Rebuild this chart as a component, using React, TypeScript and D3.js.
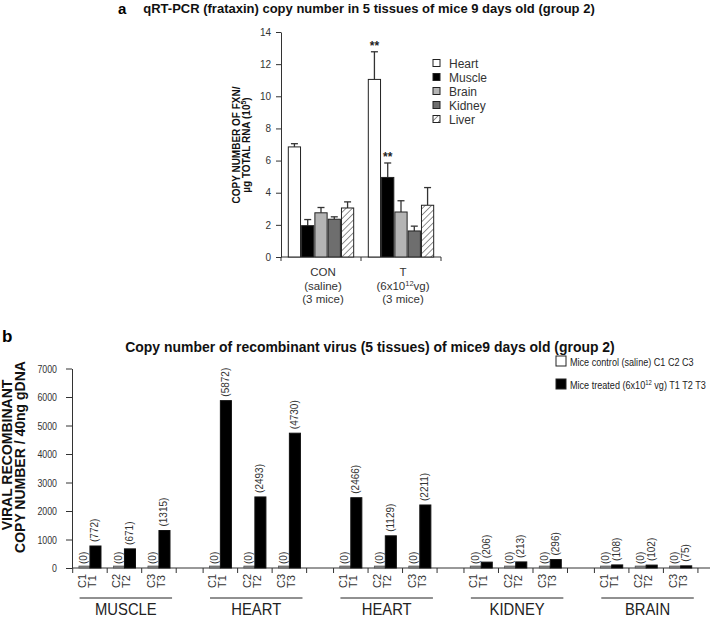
import React, { useEffect, useRef } from 'react';
import * as d3 from 'd3';

// ---- panel a data ----
const tissues = ['Heart', 'Muscle', 'Brain', 'Kidney', 'Liver'];
const topGroups = ['CON', 'T'];
const conMeans = [6.85, 1.95, 2.75, 2.35, 3.05];
const conErrors = [0.2, 0.38, 0.33, 0.15, 0.38];
const tMeans = [11.05, 4.95, 2.8, 1.62, 3.22];
const tErrors = [1.72, 0.9, 0.7, 0.3, 1.1];
const topTicks = [0, 2, 4, 6, 8, 10, 12, 14];
const significant = ['T|Heart', 'T|Muscle'];

// ---- panel b data ----
const tissueGroups = ['MUSCLE', 'HEART', 'HEART', 'KIDNEY', 'BRAIN'];
const mice = ['1', '2', '3'];
const controlCopies = [
  [0, 0, 0],
  [0, 0, 0],
  [0, 0, 0],
  [0, 0, 0],
  [0, 0, 0],
];
const treatedCopies = [
  [772, 671, 1315],
  [5872, 2493, 4730],
  [2466, 1129, 2211],
  [206, 213, 296],
  [108, 102, 75],
];
const bottomTicks = [0, 1000, 2000, 3000, 4000, 5000, 6000, 7000];

const SANS = '"Liberation Sans", Arial, sans-serif';

const tissueFill: Record<string, string> = {
  Heart: '#ffffff',
  Muscle: '#000000',
  Brain: '#b4b4b4',
  Kidney: '#6e6e6e',
  Liver: 'url(#hatch)',
};

type Sel = d3.Selection<SVGGElement, unknown, null, undefined>;

// horizontally squeezed text (panel b was drawn in a condensed face)
const narrowText = (
  parent: Sel,
  x: number,
  y: number,
  size: number,
  squeeze: number,
  anchor = 'start',
  weight = 'normal'
) =>
  parent
    .append('text')
    .attr('transform', `translate(${x},${y}) scale(${squeeze},1)`)
    .attr('text-anchor', anchor)
    .attr('font-family', SANS)
    .attr('font-size', size)
    .attr('font-weight', weight)
    .attr('fill', '#222');

const App: React.FC = () => {
  const svgRef = useRef<SVGSVGElement>(null);

  useEffect(() => {
    if (!svgRef.current) return;
    const svg = d3.select(svgRef.current);
    svg.selectAll('*').remove();

    // hatch pattern for liver
    const defs = svg.append('defs');
    const pat = defs
      .append('pattern')
      .attr('id', 'hatch')
      .attr('patternUnits', 'userSpaceOnUse')
      .attr('width', 4.5)
      .attr('height', 4.5)
      .attr('patternTransform', 'rotate(45)');
    pat.append('rect').attr('width', 4.5).attr('height', 4.5).attr('fill', '#fff');
    pat.append('line').attr('x1', 0).attr('y1', 0).attr('x2', 0).attr('y2', 4.5)
      .attr('stroke', '#555').attr('stroke-width', 1.3);

    // ===================== PANEL A =====================
    const yTop = d3.scaleLinear().domain([0, 14]).range([257, 32]);
    const xTop = d3.scaleBand<string>().domain(topGroups).range([281, 441]);
    const xInner = d3
      .scaleBand<string>()
      .domain(tissues)
      .range([0, xTop.bandwidth()])
      .paddingInner(0.08)
      .paddingOuter(0.55);

    const a = svg.append('g');

    a.append('text')
      .attr('x', 118)
      .attr('y', 14)
      .attr('font-family', SANS)
      .attr('font-weight', 'bold')
      .attr('font-size', 15)
      .text('a');

    a.append('text')
      .attr('x', 369)
      .attr('y', 13)
      .attr('text-anchor', 'middle')
      .attr('font-family', SANS)
      .attr('font-weight', 'bold')
      .attr('font-size', 13)
      .attr('fill', '#111')
      .text('qRT-PCR (frataxin) copy number in 5 tissues of mice 9 days old (group 2)');

    // y axis
    const yAxisA = a
      .append('g')
      .attr('transform', 'translate(281,0)')
      .call(d3.axisLeft(yTop).tickValues(topTicks).tickSize(5).tickSizeOuter(0).tickPadding(5));
    yAxisA.selectAll('text').attr('font-family', SANS).attr('font-size', 10).attr('fill', '#333');
    yAxisA.selectAll('line,path').attr('stroke', '#333');

    // x axis line + ticks at band edges
    a.append('line')
      .attr('x1', xTop.range()[0]).attr('x2', xTop.range()[1])
      .attr('y1', yTop(0)).attr('y2', yTop(0))
      .attr('stroke', '#333');
    const edges = [...topGroups.map((g) => xTop(g) as number), xTop.range()[1]];
    a.selectAll('.xtick')
      .data(edges)
      .join('line')
      .attr('x1', (d) => d).attr('x2', (d) => d)
      .attr('y1', yTop(0)).attr('y2', yTop(0) + 4)
      .attr('stroke', '#333');

    // y label
    const yLab = a.append('g').attr('font-family', SANS).attr('font-weight', 'bold').attr('font-size', 10).attr('fill', '#111');
    yLab.append('text')
      .attr('transform', 'translate(239.5,145) rotate(-90)')
      .attr('text-anchor', 'middle')
      .text('COPY NUMBER OF FXN/');
    const l2 = yLab.append('text')
      .attr('transform', 'translate(249.5,145) rotate(-90)')
      .attr('text-anchor', 'middle');
    l2.append('tspan').text('µg TOTAL RNA (10');
    l2.append('tspan').attr('dy', -4).attr('font-size', 7).text('5');
    l2.append('tspan').attr('dy', 4).text(')');

    // bars
    topGroups.forEach((grp) => {
      const means = grp === 'CON' ? conMeans : tMeans;
      const errs = grp === 'CON' ? conErrors : tErrors;
      const gx = xTop(grp) as number;
      tissues.forEach((t, i) => {
        const bx = gx + (xInner(t) as number);
        const bw = xInner.bandwidth();
        const cx = bx + bw / 2;
        const top = yTop(means[i] + errs[i]);
        // error bar
        a.append('line')
          .attr('x1', cx).attr('x2', cx)
          .attr('y1', yTop(means[i])).attr('y2', top)
          .attr('stroke', '#333').attr('stroke-width', 1.3);
        a.append('line')
          .attr('x1', cx - 3.5).attr('x2', cx + 3.5)
          .attr('y1', top).attr('y2', top)
          .attr('stroke', '#333').attr('stroke-width', 1.3);
        a.append('rect')
          .attr('x', bx)
          .attr('y', yTop(means[i]))
          .attr('width', bw)
          .attr('height', yTop(0) - yTop(means[i]))
          .attr('fill', tissueFill[t])
          .attr('stroke', '#222')
          .attr('stroke-width', 1);
        if (significant.includes(`${grp}|${t}`)) {
          a.append('text')
            .attr('x', cx)
            .attr('y', top - 2)
            .attr('text-anchor', 'middle')
            .attr('font-family', SANS)
            .attr('font-weight', 'bold')
            .attr('font-size', 12)
            .attr('fill', '#222')
            .text('**');
        }
      });
    });

    // category labels
    const catLines: Record<string, string[][]> = {
      CON: [['CON'], ['(saline)'], ['(3 mice)']],
      T: [['T'], ['(6x10', '12', 'vg)'], ['(3 mice)']],
    };
    topGroups.forEach((grp) => {
      const cx = (xTop(grp) as number) + xTop.bandwidth() / 2 + 2;
      catLines[grp].forEach((parts, li) => {
        const tx = a.append('text')
          .attr('x', cx)
          .attr('y', 276 + li * 13.5)
          .attr('text-anchor', 'middle')
          .attr('font-family', SANS)
          .attr('font-size', 11.5)
          .attr('fill', '#333');
        if (parts.length === 1) tx.text(parts[0]);
        else {
          tx.append('tspan').text(parts[0]);
          tx.append('tspan').attr('dy', -4).attr('font-size', 7.5).text(parts[1]);
          tx.append('tspan').attr('dy', 4).text(parts[2]);
        }
      });
    });

    // legend
    const legA = a.append('g').attr('transform', 'translate(433,63)');
    tissues.forEach((t, i) => {
      legA.append('rect')
        .attr('x', 0).attr('y', i * 14 - 3.5)
        .attr('width', 7).attr('height', 7)
        .attr('fill', tissueFill[t]).attr('stroke', '#222');
      legA.append('text')
        .attr('x', 16).attr('y', i * 14 + 4.5)
        .attr('font-family', SANS).attr('font-size', 12).attr('fill', '#333')
        .text(t);
    });

    // ===================== PANEL B =====================
    const groupStep = 3.78;
    const xB = d3.scaleLinear().domain([-0.52, 17.97]).range([72, 710]);
    const yB = d3.scaleLinear().domain([0, 7000]).range([568, 368.5]);
    const pitch = xB(1) - xB(0);
    const bw = pitch * 0.32;

    const b = svg.append('g') as Sel;
    b.append('text')
      .attr('x', 2).attr('y', 342)
      .attr('font-family', SANS).attr('font-weight', 'bold').attr('font-size', 17)
      .text('b');
    narrowText(b, 370, 352, 15.5, 0.9, 'middle', 'bold')
      .attr('fill', '#111')
      .text('Copy number of recombinant virus (5 tissues) of mice9 days old (group 2)');

    // legend b
    const legB = b.append('g').attr('transform', 'translate(556,361)') as Sel;
    [0, 1].forEach((i) => {
      legB.append('rect')
        .attr('x', 0).attr('y', i * 23 - 5)
        .attr('width', 10).attr('height', 10)
        .attr('fill', i === 0 ? '#fff' : '#000').attr('stroke', '#222');
      const tx = narrowText(legB, 14, i * 23 + 4.5, 11.5, 0.79);
      if (i === 0) tx.text('Mice control (saline) C1 C2 C3');
      else {
        tx.append('tspan').text('Mice treated (6x10');
        tx.append('tspan').attr('dy', -4).attr('font-size', 7.5).text('12');
        tx.append('tspan').attr('dy', 4).text(' vg) T1 T2 T3');
      }
    });

    // y axis (labels drawn squeezed)
    const yAxisB = b
      .append('g')
      .attr('transform', 'translate(72,0)')
      .call(d3.axisLeft(yB).tickValues(bottomTicks).tickSize(6).tickSizeOuter(0).tickFormat(() => ''));
    yAxisB.selectAll('line,path').attr('stroke', '#333');
    bottomTicks.forEach((t) => {
      narrowText(b, 57, yB(t) + 4, 11, 0.8, 'end').attr('fill', '#333').text(d3.format('d')(t));
    });

    // y label
    const yLabB = b.append('g').attr('font-family', SANS).attr('font-weight', 'bold').attr('font-size', 14).attr('fill', '#111');
    yLabB.append('text')
      .attr('transform', 'translate(11.5,455) rotate(-90)')
      .attr('text-anchor', 'middle')
      .text('VIRAL RECOMBINANT');
    yLabB.append('text')
      .attr('transform', 'translate(25,457) rotate(-90)')
      .attr('text-anchor', 'middle')
      .text('COPY NUMBER / 40ng gDNA');

    // x axis
    b.append('line')
      .attr('x1', xB.range()[0]).attr('x2', xB.range()[1])
      .attr('y1', yB(0)).attr('y2', yB(0))
      .attr('stroke', '#333');
    const tickIdx: number[] = [];
    tissueGroups.forEach((_, g) => {
      [-0.5, 0.5, 1.5, 2.5].forEach((o) => tickIdx.push(g * groupStep + o));
    });
    b.selectAll('.btick')
      .data(tickIdx)
      .join('line')
      .attr('x1', (d) => xB(d)).attr('x2', (d) => xB(d))
      .attr('y1', yB(0)).attr('y2', yB(0) + 5)
      .attr('stroke', '#333');

    tissueGroups.forEach((name, g) => {
      mice.forEach((m, p) => {
        const c = xB(g * groupStep + p);
        const cv = controlCopies[g][p];
        const tv = treatedCopies[g][p];
        // control bar
        b.append('rect')
          .attr('x', c - bw).attr('y', yB(cv) - 2)
          .attr('width', bw).attr('height', yB(0) - yB(cv) + 2)
          .attr('fill', '#8a8a8a').attr('stroke', '#444').attr('stroke-width', 0.6);
        // treated bar
        b.append('rect')
          .attr('x', c).attr('y', yB(tv))
          .attr('width', bw).attr('height', yB(0) - yB(tv))
          .attr('fill', '#000').attr('stroke', '#111');
        // value labels
        b.append('text')
          .attr('transform', `translate(${c - bw / 2 + 3},${yB(cv) - 4}) rotate(-90)`)
          .attr('font-family', SANS).attr('font-size', 10).attr('fill', '#333')
          .text(`(${cv})`);
        b.append('text')
          .attr('transform', `translate(${c + bw / 2 + 3},${yB(tv) - 4}) rotate(-90)`)
          .attr('font-family', SANS).attr('font-size', 10).attr('fill', '#333')
          .text(`(${tv})`);
        // C/T labels
        b.append('text')
          .attr('transform', `translate(${c - 4},588) rotate(-90)`)
          .attr('font-family', SANS).attr('font-size', 11).attr('fill', '#333')
          .text(`C${m}`);
        b.append('text')
          .attr('transform', `translate(${c + 6},588) rotate(-90)`)
          .attr('font-family', SANS).attr('font-size', 11).attr('fill', '#333')
          .text(`T${m}`);
      });
      // group underline + name
      b.append('line')
        .attr('x1', xB(g * groupStep - 0.3)).attr('x2', xB(g * groupStep + 2.38))
        .attr('y1', 598).attr('y2', 598)
        .attr('stroke', '#222');
      narrowText(b, xB(g * groupStep + 1.04), 615, 17, 0.87, 'middle').text(name);
    });
  }, []);

  return (
    <div style={{ position: 'absolute', left: 0, top: 0, width: '711px', height: '617px', background: '#fff' }}>
      <svg ref={svgRef} width={711} height={617} style={{ display: 'block' }}></svg>
    </div>
  );
};

export default App;
